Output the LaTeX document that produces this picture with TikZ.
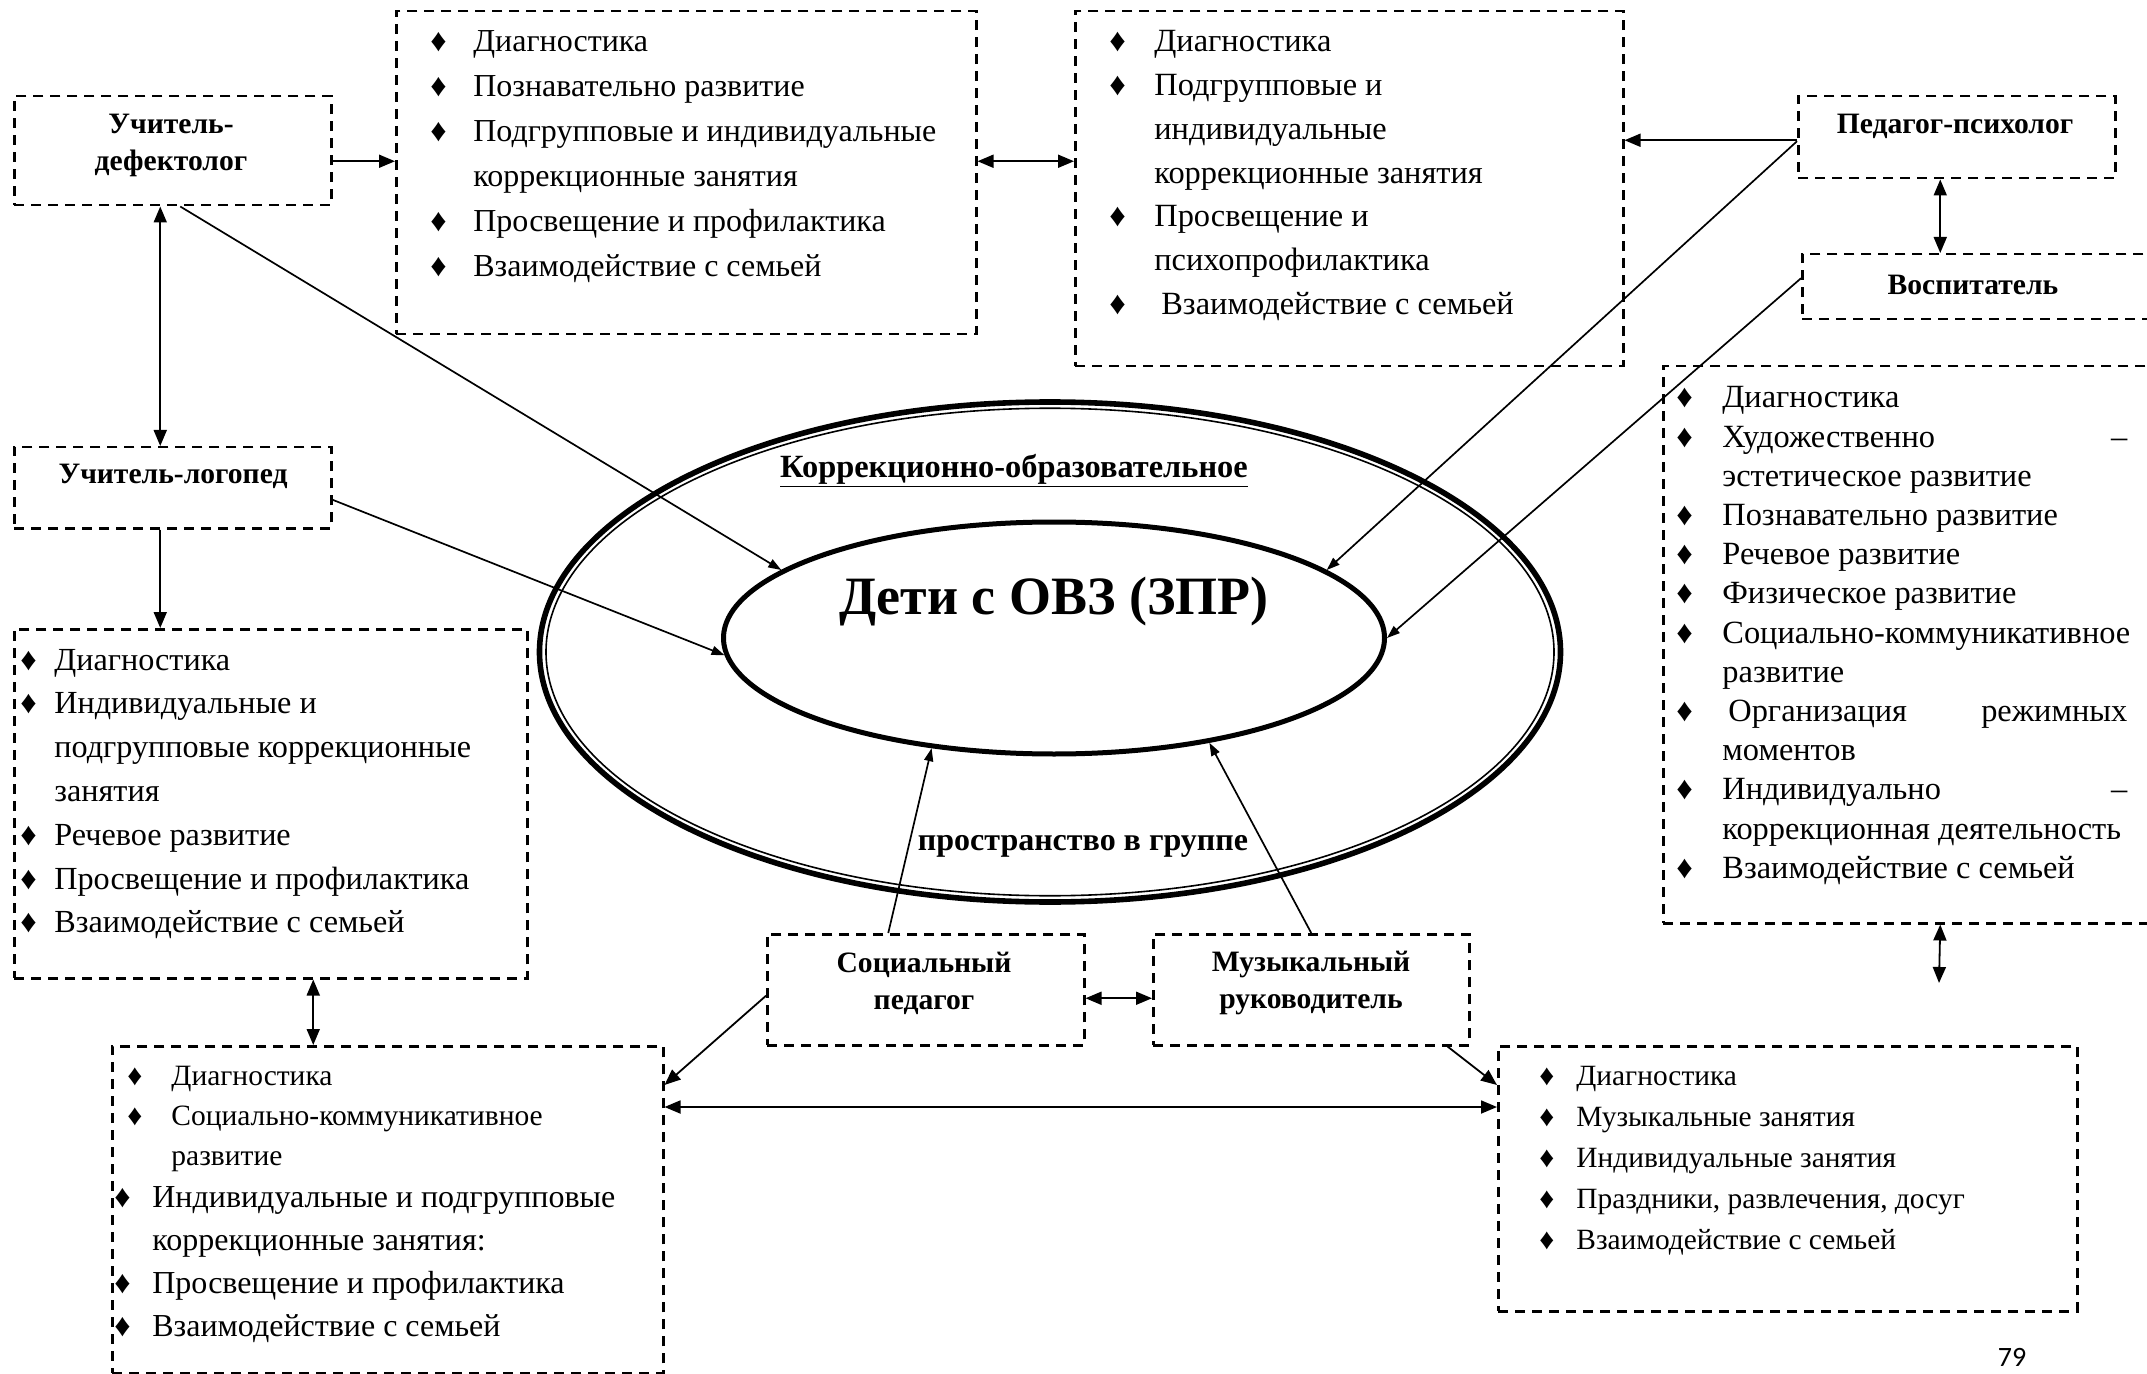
\documentclass[tikz,border=0pt]{standalone}
\usepackage{fontspec}
\setmainfont{Liberation Serif}
\newfontfamily\pagefont{Carlito}
\usetikzlibrary{arrows.meta,shapes.geometric}

\newcommand{\dmd}{♦}

\tikzset{
  box/.style={draw, dash pattern=on 5pt off 3.5pt, line width=1.25pt, rectangle, anchor=north west, inner sep=0pt},
  role/.style={font=\bfseries\fontsize{14.8}{18.5}\selectfont, align=center, inner sep=0pt},
  list/.style={anchor=base west, inner sep=0pt},
  link/.style={line width=0.9pt, -{Triangle[length=8pt,width=6.5pt]}},
  dlink/.style={line width=0.9pt, {Triangle[length=8pt,width=6.5pt]}-{Triangle[length=8pt,width=6.5pt]}},
  ray/.style={line width=0.85pt, -{Triangle[length=6.5pt,width=4.5pt]}},
}

\begin{document}
\begin{tikzpicture}[x=0.5pt,y=-0.5pt]
  \useasboundingbox (0,0) rectangle (2147,1374);

  % central ellipses
  \node[ellipse, draw, line width=2.8pt, minimum width=510.5pt, minimum height=250pt, inner sep=0pt] (space) at (1050,652) {};
  \node[ellipse, draw, line width=0.8pt, minimum width=504pt, minimum height=243.75pt, inner sep=0pt] (spacein) at (1050,652) {};
  \node[ellipse, draw, line width=2.5pt, minimum width=330.5pt, minimum height=116pt, inner sep=0pt] (kids) at (1054,638) {};
  \node[font=\bfseries\fontsize{16.2}{19}\selectfont] (title) at (1014,471) {\underline{Коррекционно-образовательное}};
  \node[font=\bfseries\fontsize{27}{31}\selectfont] (kidsl) at (1054,602) {Дети с ОВЗ (ЗПР)};
  \node[font=\bfseries\fontsize{16}{19}\selectfont] (grp) at (1083,846) {пространство в группе};

  % specialists
  \node[box, minimum width=158.5pt, minimum height=54.5pt] (df) at (13,95) {};
  \node[role] at (171,145) {Учитель-\\дефектолог};
  \node[box, minimum width=158.5pt, minimum height=40.5pt] (lg) at (13,446) {};
  \node[role] at (173,476) {Учитель-логопед};
  \node[box, minimum width=158.5pt, minimum height=41pt] (ps) at (1797,95) {};
  \node[role] at (1955,126) {Педагог-психолог};
  \node[box, minimum width=179.5pt, minimum height=32.5pt] (vs) at (1801,253) {};
  \node[role] at (1973,285) {Воспитатель};
  \node[box, minimum width=158.5pt, minimum height=55.5pt] (sp) at (766,933) {};
  \node[role] at (924,983) {Социальный\\педагог};
  \node[box, minimum width=158pt, minimum height=55.5pt] (mr) at (1152,933) {};
  \node[role] at (1311,983) {Музыкальный\\руководитель};

  % work areas
  \node[box, minimum width=290pt, minimum height=161.5pt] (dfw) at (395,10) {};
  \node[list, font=\fontsize{16}{22.5}\selectfont] (dfl) at (430,52) {%
    \begin{tabular}[t]{@{}p{21.5pt}@{}l@{}}
    \dmd & Диагностика\\
    \dmd & Познавательно развитие\\
    \dmd & Подгрупповые и индивидуальные\\
         & коррекционные занятия\\
    \dmd & Просвещение и профилактика\\
    \dmd & Взаимодействие с семьей
    \end{tabular}};

  \node[box, minimum width=274pt, minimum height=177.5pt] (psw) at (1074,10) {};
  \node[list, font=\fontsize{16.2}{21.85}\selectfont] (psl) at (1109,52) {%
    \begin{tabular}[t]{@{}p{22.5pt}@{}l@{}}
    \dmd & Диагностика\\
    \dmd & Подгрупповые и\\
         & индивидуальные\\
         & коррекционные занятия\\
    \dmd & Просвещение и\\
         & психопрофилактика\\
    \dmd & \hspace{3.5pt}Взаимодействие с семьей
    \end{tabular}};

  \node[box, minimum width=256.5pt, minimum height=174.5pt] (lgw) at (13,628) {};
  \node[list, font=\fontsize{16.1}{21.9}\selectfont] (lgl) at (20,670) {%
    \begin{tabular}[t]{@{}p{17pt}@{}l@{}}
    \dmd & Диагностика\\
    \dmd & Индивидуальные и\\
         & подгрупповые коррекционные\\
         & занятия\\
    \dmd & Речевое развитие\\
    \dmd & Просвещение и профилактика\\
    \dmd & Взаимодействие с семьей
    \end{tabular}};

  \node[box, minimum width=249pt, minimum height=278.5pt] (vsw) at (1662,365) {};
  \node[list, font=\fontsize{16.2}{19.6}\selectfont] (vsl) at (1676,408) {%
    \begin{tabular}[t]{@{}p{23pt}@{}l@{}}
    \dmd & Диагностика\\
    \dmd & \makebox[202.5pt][l]{Художественно\hfill –}\\
         & эстетическое развитие\\
    \dmd & Познавательно развитие\\
    \dmd & Речевое развитие\\
    \dmd & Физическое развитие\\
    \dmd & Социально-коммуникативное\\
         & развитие\\
    \dmd & \makebox[202.5pt][l]{\hspace{3pt}Организация\hfill режимных}\\
         & моментов\\
    \dmd & \makebox[202.5pt][l]{Индивидуально\hfill –}\\
         & коррекционная деятельность\\
    \dmd & Взаимодействие с семьей
    \end{tabular}};

  \node[box, minimum width=275.5pt, minimum height=163.5pt] (spw) at (111,1045) {};
  \node[list, font=\fontsize{14.75}{20}\selectfont] (spl) at (127,1085) {%
    \begin{tabular}[t]{@{}p{22pt}@{}l@{}}
    \dmd & Диагностика\\
    \dmd & Социально-коммуникативное\\
         & развитие
    \end{tabular}};
  \node[list, font=\fontsize{16}{21.6}\selectfont] (spl2) at (114,1207) {%
    \begin{tabular}[t]{@{}p{19pt}@{}l@{}}
    \dmd & Индивидуальные и подгрупповые\\
         & коррекционные занятия:\\
    \dmd & Просвещение и профилактика\\
    \dmd & Взаимодействие с семьей
    \end{tabular}};

  \node[box, minimum width=289.5pt, minimum height=132.5pt] (mrw) at (1497,1045) {};
  \node[list, font=\fontsize{14.7}{20.5}\selectfont] (mrl) at (1539,1085) {%
    \begin{tabular}[t]{@{}p{18.5pt}@{}l@{}}
    \dmd & Диагностика\\
    \dmd & Музыкальные занятия\\
    \dmd & Индивидуальные занятия\\
    \dmd & Праздники, развлечения, досуг\\
    \dmd & Взаимодействие с семьей
    \end{tabular}};

  \node[font=\pagefont\fontsize{14}{16}\selectfont] (pgn) at (2012,1357) {79};
  \coordinate (vsb) at (1939,983);

  % links between boxes
  \draw[link] ([yshift=-5.25pt]df.east) -- ([yshift=5.75pt]dfw.west);
  \draw[dlink] ([yshift=5.75pt]dfw.east) -- ([yshift=13.75pt]psw.west);
  \draw[link] ([yshift=-1.5pt]ps.west) -- ([yshift=24.25pt]psw.east);
  \draw[dlink] ([xshift=-8.25pt]ps.south) -- ([xshift=-20.75pt]vs.north);
  \draw[dlink] ([xshift=14pt]vsw.south) -- (vsb);
  \draw[dlink] ([xshift=-6.25pt]df.south) -- ([xshift=-6.25pt]lg.north);
  \draw[link] ([xshift=-6.25pt]lg.south) -- ([xshift=-55.25pt]lgw.north);
  \draw[dlink] ([xshift=21.25pt]lgw.south) -- ([xshift=-37.25pt]spw.north);
  \draw[dlink] ([yshift=-4.25pt]sp.east) -- ([yshift=-4.25pt]mr.west);
  \draw[link] ([yshift=-3pt]sp.west) -- ([yshift=-20pt]spw.north east);
  \draw[link] ([xshift=-11.5pt]mr.south east) -- ([yshift=-20pt]mrw.north west);
  \draw[dlink] ([yshift=-31pt]spw.north east) -- ([yshift=-31pt]mrw.north west);

  % links to the children
  \draw[ray] ([xshift=3.75pt]df.south) -- (kids.166);
  \draw[ray] ([yshift=-6pt]lg.east) -- (kids.183);
  \draw[ray] ([yshift=-2pt]ps.west) -- (kids.14);
  \draw[ray] ([yshift=4.25pt]vs.west) -- (kids.0);
  \draw[ray] ([xshift=-18.75pt]sp.north) -- (kids.222);
  \draw[ray] (mr.north) -- (kids.-34);
\end{tikzpicture}
\end{document}
